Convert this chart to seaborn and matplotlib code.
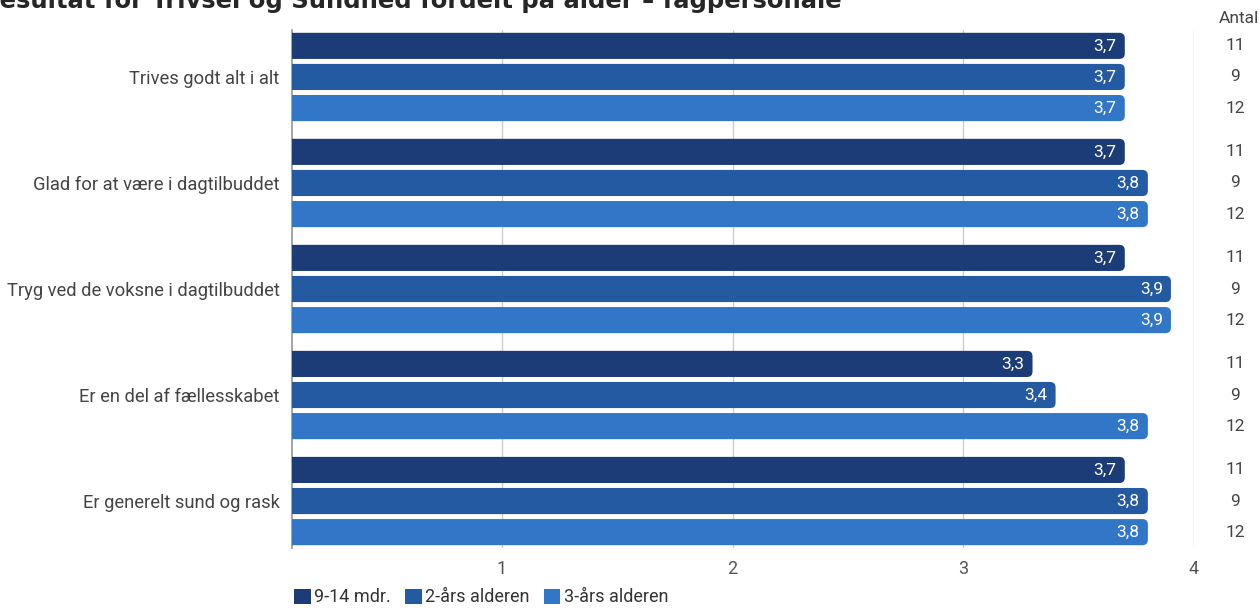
import numpy as np
import pandas as pd
import matplotlib.pyplot as plt
import seaborn as sns
from matplotlib.patches import FancyBboxPatch, Patch

questions = ["Trives godt alt i alt", "Glad for at være i dagtilbuddet",
             "Tryg ved de voksne i dagtilbuddet", "Er en del af fællesskabet",
             "Er generelt sund og rask"]
groups = ["9-14 mdr.", "2-års alderen", "3-års alderen"]
v_914 = [3.7, 3.7, 3.7, 3.3, 3.7]
v_2aar = [3.7, 3.8, 3.9, 3.4, 3.8]
v_3aar = [3.7, 3.8, 3.9, 3.8, 3.8]
antal = [11, 9, 12]
colors = ["#1c3c78", "#245aa2", "#3276c8"]

rows = []
for g, vals in zip(groups, [v_914, v_2aar, v_3aar]):
    for q, v in zip(questions, vals):
        rows.append({"q": q, "grp": g, "val": v})
df = pd.DataFrame(rows)

sns.set_theme(style="white")
plt.rcParams['font.family'] = ['Roboto', 'DejaVu Sans']

fig = plt.figure(figsize=(12.59, 6.08), dpi=100)
ax = fig.add_axes([292/1259, 60/608, 902/1259, 518/608])

sns.barplot(data=df, y="q", x="val", hue="grp", order=questions, hue_order=groups,
            palette=colors, orient="h", width=0.88, gap=0.16, ax=ax, legend=False,
            saturation=1)

ax.set_xlim(0.09, 4.0)
ax.set_ylim(4.443, -0.443)

# rounded bars
for j, cont in enumerate(ax.containers):
    for bar in cont:
        x0, y0 = bar.get_x(), bar.get_y()
        w, h = bar.get_width(), bar.get_height()
        bar.set_visible(False)
        fb = FancyBboxPatch((x0 - 0.1, y0), w + 0.1, h,
                            boxstyle="round,pad=0,rounding_size=0.024",
                            mutation_aspect=2.1, fc=colors[j], ec="none",
                            clip_on=True, zorder=3)
        ax.add_patch(fb)
        ax.text(x0 + w - 0.035, y0 + h / 2, f"{w:.1f}".replace(".", ","),
                ha="right", va="center", color="white", fontsize=12.5, zorder=4)
        ax.text(1.046, y0 + h / 2, str(antal[j]), transform=ax.get_yaxis_transform(),
                ha="center", va="center", color="#444", fontsize=12.5)

ax.text(1.05, 1.023, "Antal", transform=ax.transAxes, ha="center", va="center",
        color="#444", fontsize=12.5)

ax.set_xticks([1, 2, 3, 4])
ax.set_xticklabels(["1", "2", "3", "4"])
ax.grid(axis="x", color="#cccccc", lw=1, zorder=0)
ax.set_axisbelow(True)
for s in ["top", "right", "bottom"]:
    ax.spines[s].set_visible(False)
ax.spines["left"].set_color("#999999")
ax.tick_params(axis="x", length=3, color="#cccccc", labelsize=13, labelcolor="#555555", pad=6)
ax.tick_params(axis="y", length=0, labelsize=13.2, labelcolor="#444444", pad=9)
ax.set_xlabel("")
ax.set_ylabel("")

handles = [Patch(fc=c, ec="none") for c in colors]
fig.legend(handles, groups, loc="lower left", bbox_to_anchor=(278/1259, -0.024), ncol=3,
           frameon=False, fontsize=13, handlelength=0.9, handleheight=0.9,
           handletextpad=0.2, columnspacing=0.8, labelcolor="#333333")

fig.text(-19/1259, 1 - 8/608, "Resultat for Trivsel og Sundhed fordelt på alder – fagpersonale",
         ha="left", va="baseline", fontsize=17.5, fontweight="bold", family="DejaVu Sans")

fig.savefig("out.png", dpi=100)
